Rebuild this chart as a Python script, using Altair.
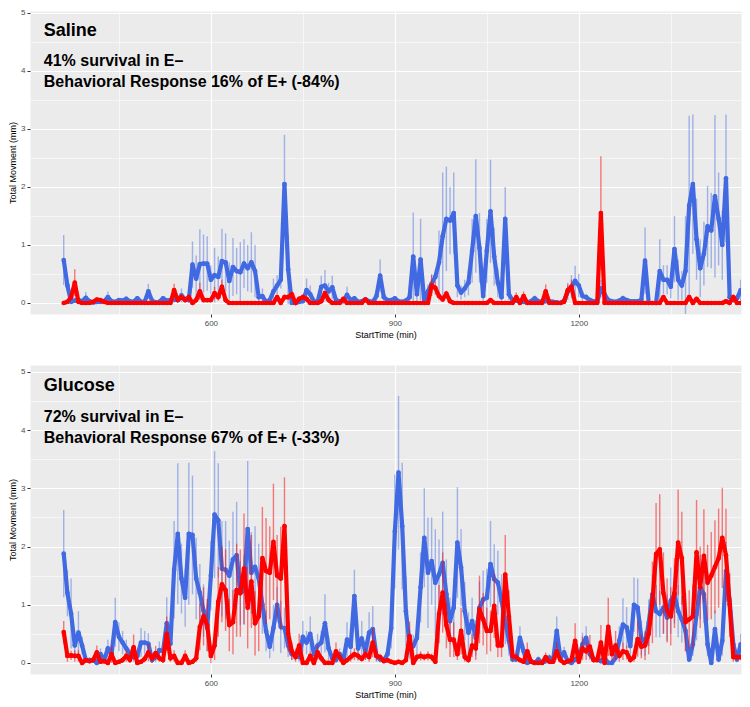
import altair as alt
import pandas as pd

BLUE = "#4169E1"
RED = "#FF0000"

# sampling grid: one point every 6 minutes, 360 .. 1464
T_START, T_STEP, N = 360, 6, 185
times = [T_START + T_STEP * i for i in range(N)]

# ---------------- Saline panel ----------------
saline_eplus = [
    0.74, 0.30, 0.02, 0.04, 0.05, 0.03, 0.09, 0.03, 0.01, 0.02,
    0.02, 0.03, 0.10, 0.03, 0.02, 0.05, 0.04, 0.07, 0.03, 0.02,
    0.08, 0.02, 0.02, 0.20, 0.04, 0.01, 0.02, 0.08, 0.04, 0.05,
    0.06, 0.05, 0.13, 0.06, 0.05, 0.66, 0.42, 0.67, 0.68, 0.68,
    0.40, 0.48, 0.45, 0.72, 0.70, 0.38, 0.62, 0.55, 0.53, 0.68,
    0.60, 0.70, 0.55, 0.10, 0.12, 0.02, 0.05, 0.20, 0.30, 0.40,
    2.05, 0.58, 0.00, 0.00, 0.02, 0.03, 0.22, 0.15, 0.03, 0.02,
    0.28, 0.30, 0.20, 0.27, 0.05, 0.03, 0.03, 0.14, 0.05, 0.08,
    0.02, 0.03, 0.06, 0.03, 0.02, 0.12, 0.47, 0.10, 0.05, 0.05,
    0.08, 0.03, 0.02, 0.04, 0.10, 0.80, 0.15, 0.75, 0.03, 0.20,
    0.33, 0.45, 0.70, 1.15, 1.45, 1.42, 1.55, 0.30, 0.18, 0.25,
    0.35, 0.90, 1.50, 0.95, 0.12, 0.90, 1.58, 0.80, 0.35, 0.10,
    1.45, 0.15, 0.05, 0.04, 0.02, 0.02, 0.01, 0.03, 0.08, 0.03,
    0.02, 0.03, 0.03, 0.02, 0.01, 0.00, 0.04, 0.20, 0.28, 0.38,
    0.30, 0.12, 0.10, 0.05, 0.03, 0.02, 0.25, 0.15, 0.05, 0.03,
    0.02, 0.04, 0.08, 0.05, 0.03, 0.03, 0.03, 0.05, 0.73, 0.00,
    0.00, 0.00, 0.55, 0.40, 0.40, 0.28, 0.93, 0.40, 0.30, 0.55,
    1.68, 2.05, 1.10, 0.60, 0.85, 1.32, 1.25, 1.84, 1.45, 1.00,
    2.15, 0.10, 0.05, 0.08, 0.22,
]
saline_eplus_se = [
    0.43, 0.10, 0.01, 0.02, 0.03, 0.02, 0.10, 0.02, 0.01, 0.01,
    0.01, 0.02, 0.10, 0.02, 0.01, 0.03, 0.03, 0.05, 0.02, 0.01,
    0.04, 0.01, 0.01, 0.13, 0.03, 0.01, 0.01, 0.04, 0.03, 0.04,
    0.05, 0.04, 0.12, 0.05, 0.04, 0.40, 0.40, 0.60, 0.50, 0.47,
    0.25, 0.47, 0.35, 0.56, 0.50, 0.32, 0.50, 0.40, 0.52, 0.42,
    0.40, 0.52, 0.45, 0.10, 0.13, 0.02, 0.05, 0.22, 0.18, 0.15,
    0.85, 0.60, 0.00, 0.00, 0.02, 0.03, 0.20, 0.15, 0.03, 0.02,
    0.19, 0.27, 0.15, 0.20, 0.05, 0.02, 0.02, 0.14, 0.04, 0.04,
    0.01, 0.02, 0.04, 0.02, 0.01, 0.10, 0.28, 0.08, 0.04, 0.03,
    0.04, 0.02, 0.01, 0.03, 0.06, 0.76, 0.12, 0.70, 0.02, 0.12,
    0.17, 0.05, 0.55, 1.10, 0.90, 0.58, 0.70, 0.20, 0.12, 0.15,
    0.22, 0.55, 0.98, 0.60, 0.08, 0.55, 0.89, 0.50, 0.25, 0.06,
    0.55, 0.10, 0.04, 0.03, 0.02, 0.01, 0.01, 0.02, 0.05, 0.02,
    0.01, 0.02, 0.02, 0.01, 0.01, 0.00, 0.03, 0.15, 0.20, 0.26,
    0.20, 0.08, 0.06, 0.04, 0.02, 0.01, 0.15, 0.10, 0.04, 0.02,
    0.01, 0.03, 0.05, 0.03, 0.02, 0.02, 0.02, 0.03, 0.57, 0.00,
    0.00, 0.00, 0.55, 0.25, 0.25, 0.20, 0.57, 0.35, 0.25, 0.95,
    1.55, 1.20, 0.70, 0.50, 0.55, 0.70, 0.65, 1.40, 0.80, 0.60,
    1.10, 0.06, 0.03, 0.05, 0.18,
]
saline_eminus = [
    0.00, 0.02, 0.10, 0.35, 0.02, 0.00, 0.00, 0.00, 0.02, 0.06,
    0.05, 0.02, 0.00, 0.00, 0.00, 0.00, 0.00, 0.00, 0.00, 0.00,
    0.00, 0.00, 0.00, 0.00, 0.00, 0.00, 0.00, 0.00, 0.00, 0.00,
    0.22, 0.05, 0.10, 0.05, 0.10, 0.00, 0.05, 0.20, 0.05, 0.05,
    0.05, 0.17, 0.10, 0.28, 0.05, 0.00, 0.00, 0.00, 0.00, 0.00,
    0.00, 0.00, 0.00, 0.00, 0.00, 0.00, 0.00, 0.00, 0.10, 0.00,
    0.10, 0.10, 0.15, 0.00, 0.07, 0.10, 0.07, 0.00, 0.00, 0.00,
    0.03, 0.17, 0.05, 0.00, 0.00, 0.00, 0.07, 0.00, 0.00, 0.00,
    0.00, 0.00, 0.06, 0.00, 0.00, 0.00, 0.00, 0.00, 0.00, 0.00,
    0.00, 0.00, 0.00, 0.00, 0.00, 0.00, 0.00, 0.00, 0.00, 0.00,
    0.30, 0.26, 0.12, 0.06, 0.16, 0.03, 0.00, 0.00, 0.00, 0.00,
    0.00, 0.00, 0.00, 0.00, 0.00, 0.00, 0.05, 0.00, 0.00, 0.00,
    0.00, 0.00, 0.00, 0.10, 0.00, 0.12, 0.00, 0.00, 0.00, 0.00,
    0.00, 0.20, 0.00, 0.00, 0.00, 0.00, 0.02, 0.22, 0.28, 0.00,
    0.00, 0.00, 0.00, 0.00, 0.00, 0.00, 1.55, 0.00, 0.00, 0.00,
    0.00, 0.00, 0.00, 0.00, 0.00, 0.00, 0.00, 0.00, 0.00, 0.00,
    0.00, 0.00, 0.00, 0.10, 0.00, 0.00, 0.00, 0.00, 0.00, 0.00,
    0.10, 0.00, 0.07, 0.00, 0.00, 0.00, 0.00, 0.00, 0.00, 0.00,
    0.03, 0.00, 0.10, 0.00, 0.00,
]
saline_eminus_se = [
    0.00, 0.01, 0.05, 0.23, 0.01, 0.00, 0.00, 0.00, 0.01, 0.03,
    0.03, 0.01, 0.00, 0.00, 0.00, 0.00, 0.00, 0.00, 0.00, 0.00,
    0.00, 0.00, 0.00, 0.00, 0.00, 0.00, 0.00, 0.00, 0.00, 0.00,
    0.11, 0.03, 0.05, 0.03, 0.05, 0.00, 0.03, 0.15, 0.03, 0.03,
    0.03, 0.11, 0.06, 0.12, 0.03, 0.00, 0.00, 0.00, 0.00, 0.00,
    0.00, 0.00, 0.00, 0.00, 0.00, 0.00, 0.00, 0.00, 0.03, 0.00,
    0.05, 0.05, 0.05, 0.00, 0.04, 0.05, 0.04, 0.00, 0.00, 0.00,
    0.02, 0.03, 0.03, 0.00, 0.00, 0.00, 0.03, 0.00, 0.00, 0.00,
    0.00, 0.00, 0.03, 0.00, 0.00, 0.00, 0.00, 0.00, 0.00, 0.00,
    0.00, 0.00, 0.00, 0.00, 0.00, 0.00, 0.00, 0.00, 0.00, 0.00,
    0.18, 0.12, 0.06, 0.04, 0.05, 0.02, 0.00, 0.00, 0.00, 0.00,
    0.00, 0.00, 0.00, 0.00, 0.00, 0.00, 0.03, 0.00, 0.00, 0.00,
    0.00, 0.00, 0.00, 0.08, 0.00, 0.08, 0.00, 0.00, 0.00, 0.00,
    0.00, 0.12, 0.00, 0.00, 0.00, 0.00, 0.01, 0.10, 0.12, 0.00,
    0.00, 0.00, 0.00, 0.00, 0.00, 0.00, 0.98, 0.00, 0.00, 0.00,
    0.00, 0.00, 0.00, 0.00, 0.00, 0.00, 0.00, 0.00, 0.00, 0.00,
    0.00, 0.00, 0.00, 0.04, 0.00, 0.00, 0.00, 0.00, 0.00, 0.00,
    0.04, 0.00, 0.03, 0.00, 0.00, 0.00, 0.00, 0.00, 0.00, 0.00,
    0.02, 0.00, 0.05, 0.00, 0.00,
]

# ---------------- Glucose panel ----------------
glucose_eplus = [
    1.88, 1.20, 0.85, 0.30, 0.52, 0.30, 0.05, 0.05, 0.05, 0.00,
    0.15, 0.05, 0.25, 0.15, 0.70, 0.45, 0.35, 0.25, 0.15, 0.10,
    0.12, 0.35, 0.35, 0.33, 0.05, 0.10, 0.22, 0.20, 0.68, 0.33,
    1.60, 2.22, 1.45, 1.12, 2.22, 2.20, 1.45, 1.20, 0.90, 0.60,
    1.50, 2.55, 2.45, 1.62, 1.60, 1.50, 1.78, 1.85, 1.20, 1.25,
    2.30, 1.55, 1.65, 1.45, 1.00, 0.55, 0.28, 0.60, 1.00, 0.62,
    0.60, 0.30, 0.15, 0.15, 0.10, 0.45, 0.35, 0.50, 0.15, 0.30,
    0.35, 0.68, 0.25, 0.08, 0.05, 0.15, 0.05, 0.40, 0.28, 1.15,
    0.25, 0.42, 0.20, 0.52, 0.58, 0.12, 0.06, 0.05, 0.15, 0.60,
    2.26, 3.27, 2.35, 0.89, 0.32, 0.29, 0.43, 1.30, 2.15, 1.55,
    1.75, 1.38, 1.52, 1.72, 1.18, 0.72, 0.95, 2.07, 1.64, 0.89,
    0.52, 0.72, 0.43, 0.95, 1.09, 1.12, 1.70, 1.44, 1.38, 1.07,
    0.72, 0.38, 0.06, 0.06, 0.43, 0.20, 0.00, 0.03, 0.00, 0.06,
    0.00, 0.03, 0.09, 0.03, 0.55, 0.09, 0.18, 0.03, 0.00, 0.06,
    0.06, 0.32, 0.43, 0.15, 0.06, 0.06, 0.03, 0.09, 0.00, 0.00,
    0.09, 0.38, 0.66, 0.61, 0.29, 1.00, 0.95, 0.43, 0.32, 0.69,
    1.18, 0.89, 0.84, 0.95, 0.78, 1.07, 1.18, 0.89, 0.75, 0.55,
    0.06, 0.32, 0.84, 1.30, 1.18, 0.32, 0.00, 0.58, 0.06, 0.38,
    1.58, 1.07, 0.32, 0.06, 0.32,
]
glucose_eplus_se = [
    0.75, 0.40, 0.60, 0.20, 0.37, 0.15, 0.05, 0.05, 0.05, 0.02,
    0.10, 0.05, 0.15, 0.10, 0.42, 0.25, 0.20, 0.15, 0.10, 0.08,
    0.08, 0.25, 0.20, 0.18, 0.05, 0.08, 0.15, 0.15, 0.45, 0.25,
    0.84, 1.21, 0.60, 0.50, 1.22, 1.02, 0.70, 0.50, 0.45, 0.40,
    0.60, 1.09, 0.98, 0.82, 0.84, 0.60, 0.82, 0.92, 0.55, 0.60,
    1.17, 0.70, 0.70, 0.60, 0.50, 0.35, 0.20, 0.40, 0.30, 0.45,
    0.35, 0.20, 0.10, 0.10, 0.08, 0.27, 0.20, 0.30, 0.10, 0.20,
    0.20, 0.50, 0.20, 0.06, 0.04, 0.10, 0.04, 0.30, 0.20, 0.45,
    0.20, 0.30, 0.15, 0.35, 0.40, 0.10, 0.05, 0.04, 0.10, 0.35,
    0.98, 1.32, 1.09, 0.60, 0.25, 0.20, 0.30, 0.60, 0.85, 0.95,
    0.75, 0.92, 0.60, 0.88, 0.60, 0.40, 0.50, 0.95, 0.66, 0.50,
    0.35, 0.40, 0.30, 0.45, 0.50, 0.50, 0.74, 0.60, 0.55, 0.45,
    0.40, 0.25, 0.05, 0.05, 0.20, 0.12, 0.00, 0.03, 0.00, 0.05,
    0.00, 0.03, 0.06, 0.03, 0.25, 0.06, 0.10, 0.03, 0.00, 0.05,
    0.05, 0.20, 0.20, 0.10, 0.05, 0.05, 0.03, 0.06, 0.00, 0.00,
    0.06, 0.25, 0.45, 0.35, 0.20, 0.47, 0.50, 0.30, 0.20, 0.40,
    0.34, 0.45, 0.40, 0.45, 0.40, 0.57, 0.50, 0.45, 0.40, 0.35,
    0.05, 0.20, 0.45, 0.55, 0.50, 0.20, 0.00, 0.32, 0.05, 0.25,
    0.50, 0.45, 0.20, 0.05, 0.18,
]
glucose_eminus = [
    0.53, 0.12, 0.13, 0.12, 0.12, 0.00, 0.05, 0.03, 0.05, 0.18,
    0.02, 0.03, 0.00, 0.15, 0.00, 0.02, 0.05, 0.12, 0.05, 0.27,
    0.00, 0.02, 0.07, 0.18, 0.08, 0.17, 0.08, 0.05, 0.50, 0.08,
    0.12, 0.00, 0.00, 0.12, 0.00, 0.02, 0.08, 0.62, 0.80, 0.65,
    0.12, 0.30, 1.05, 1.35, 1.25, 0.65, 0.70, 1.25, 1.20, 1.62,
    0.95, 1.40, 0.68, 0.80, 1.80, 1.58, 1.55, 2.08, 1.50, 1.45,
    2.35, 0.50, 0.20, 0.10, 0.30, 0.00, 0.00, 0.12, 0.00, 0.18,
    0.08, 0.00, 0.00, 0.00, 0.20, 0.10, 0.00, 0.05, 0.10, 0.15,
    0.12, 0.07, 0.15, 0.10, 0.35, 0.12, 0.10, 0.03, 0.05, 0.02,
    0.00, 0.02, 0.00, 0.05, 0.46, 0.00, 0.10, 0.12, 0.10, 0.12,
    0.10, 0.02, 0.84, 1.21, 0.65, 0.40, 0.40, 0.15, 0.55, 0.10,
    0.05, 0.30, 0.25, 0.92, 0.75, 0.55, 0.55, 0.98, 0.30, 0.30,
    1.52, 0.80, 0.12, 0.10, 0.05, 0.02, 0.20, 0.02, 0.00, 0.00,
    0.00, 0.10, 0.02, 0.02, 0.20, 0.05, 0.00, 0.03, 0.05, 0.38,
    0.02, 0.25, 0.20, 0.28, 0.05, 0.05, 0.35, 0.00, 0.62, 0.15,
    0.30, 0.12, 0.20, 0.18, 0.05, 0.10, 0.41, 0.28, 0.30, 0.50,
    1.04, 1.87, 1.95, 1.20, 0.90, 0.80, 1.20, 2.07, 1.80, 0.70,
    0.75, 0.80, 1.90, 1.30, 1.84, 1.38, 1.50, 1.65, 1.80, 2.15,
    1.85, 1.00, 0.10, 0.10, 0.10,
]
glucose_eminus_se = [
    0.19, 0.10, 0.08, 0.10, 0.10, 0.02, 0.04, 0.03, 0.04, 0.12,
    0.02, 0.03, 0.02, 0.15, 0.02, 0.02, 0.05, 0.10, 0.05, 0.22,
    0.02, 0.03, 0.06, 0.15, 0.08, 0.12, 0.06, 0.05, 0.30, 0.06,
    0.10, 0.02, 0.02, 0.10, 0.02, 0.03, 0.07, 0.40, 0.50, 0.45,
    0.12, 0.25, 0.60, 0.65, 0.70, 0.45, 0.55, 0.80, 0.75, 0.95,
    0.70, 0.80, 0.55, 0.60, 0.88, 0.91, 0.80, 1.00, 0.70, 0.89,
    0.84, 0.30, 0.15, 0.08, 0.20, 0.00, 0.00, 0.08, 0.00, 0.12,
    0.06, 0.00, 0.00, 0.00, 0.15, 0.08, 0.00, 0.04, 0.08, 0.10,
    0.08, 0.05, 0.10, 0.08, 0.25, 0.08, 0.06, 0.02, 0.04, 0.02,
    0.00, 0.02, 0.00, 0.04, 0.25, 0.00, 0.06, 0.08, 0.06, 0.08,
    0.06, 0.02, 0.50, 0.69, 0.40, 0.30, 0.30, 0.10, 0.40, 0.08,
    0.04, 0.20, 0.20, 0.58, 0.45, 0.40, 0.35, 0.55, 0.20, 0.20,
    0.68, 0.45, 0.08, 0.06, 0.04, 0.02, 0.15, 0.02, 0.00, 0.00,
    0.00, 0.08, 0.02, 0.02, 0.15, 0.04, 0.00, 0.02, 0.04, 0.30,
    0.02, 0.20, 0.15, 0.20, 0.04, 0.04, 0.30, 0.00, 0.50, 0.12,
    0.25, 0.10, 0.15, 0.12, 0.04, 0.08, 0.30, 0.20, 0.25, 0.35,
    0.70, 0.88, 0.95, 0.70, 0.55, 0.50, 0.60, 0.91, 0.80, 0.50,
    0.50, 0.55, 0.90, 0.70, 0.80, 0.65, 0.75, 0.80, 0.85, 0.86,
    0.80, 0.55, 0.08, 0.06, 0.05,
]

x_ticks = [450, 600, 750, 900, 1050, 1200, 1350]
y_ticks = [0, 0.5, 1, 1.5, 2, 2.5, 3, 3.5, 4, 4.5, 5]

saline_title = "Saline"
saline_lines = ["41% survival in E\u2013", "Behavioral Response 16% of E+ (-84%)"]
glucose_title = "Glucose"
glucose_lines = ["72% survival in E\u2013", "Behavioral Response 67% of E+ (-33%)"]

for arr in [saline_eplus, saline_eplus_se, saline_eminus, saline_eminus_se,
            glucose_eplus, glucose_eplus_se, glucose_eminus, glucose_eminus_se]:
    assert len(arr) == N, len(arr)

X_DOMAIN = [305, 1464.5]
FONT = "Liberation Sans"

x_axis = alt.Axis(
    values=x_ticks,
    labelExpr="datum.value % 300 === 0 ? format(datum.value, 'd') : ''",
    gridWidth={"condition": {"test": "datum.value % 300 === 0", "value": 1.1}, "value": 0.55},
    tickOpacity={"condition": {"test": "datum.value % 300 === 0", "value": 1}, "value": 0},
)
y_axis = alt.Axis(
    values=y_ticks,
    labelExpr="datum.value % 1 === 0 ? format(datum.value, 'd') : ''",
    gridWidth={"condition": {"test": "datum.value % 1 === 0", "value": 1.1}, "value": 0.55},
    tickOpacity={"condition": {"test": "datum.value % 1 === 0", "value": 1}, "value": 0},
)


def panel(eplus, eplus_se, eminus, eminus_se, ydom, height, title, lines, text_y):
    xs = alt.X("t:Q", scale=alt.Scale(domain=X_DOMAIN, nice=False, zero=False),
               axis=x_axis, title="StartTime (min)")
    yscale = alt.Scale(domain=ydom, nice=False, zero=False)
    layers = []
    for vals, ses, col, op in [(eplus, eplus_se, BLUE, 0.45), (eminus, eminus_se, RED, 0.5)]:
        df = pd.DataFrame({
            "t": times,
            "v": vals,
            "lo": [a - b for a, b in zip(vals, ses)],
            "hi": [a + b for a, b in zip(vals, ses)],
        })
        base = alt.Chart(df)
        bars = base.mark_rule(color=col, strokeWidth=1.4, opacity=op, clip=True).encode(
            x=xs,
            y=alt.Y("lo:Q", scale=yscale, axis=y_axis, title="Total Movment (mm)"),
            y2="hi:Q",
        )
        yv = alt.Y("v:Q", scale=yscale, axis=y_axis, title="Total Movment (mm)")
        line = base.mark_line(color=col, strokeWidth=4.2, strokeJoin="round", clip=True).encode(x=xs, y=yv)
        pts = base.mark_circle(color=col, size=22, opacity=1, clip=True).encode(x=xs, y=yv)
        layers += [bars, line, pts]
    yv = alt.Y("v:Q", scale=yscale, axis=y_axis, title="Total Movment (mm)")
    tdf = pd.DataFrame({"t": [327.5], "v": [text_y[0]], "label": [title]})
    ldf = pd.DataFrame({"t": [327.5, 327.5], "v": text_y[1:], "label": lines})
    t1 = alt.Chart(tdf).mark_text(align="left", baseline="alphabetic", font=FONT, fontWeight="bold",
                                  fontSize=18, color="black").encode(x=xs, y=yv, text="label:N")
    t2 = alt.Chart(ldf).mark_text(align="left", baseline="alphabetic", font=FONT, fontWeight="bold",
                                  fontSize=16, color="black").encode(x=xs, y=yv, text="label:N")
    return alt.layer(*layers, t1, t2).properties(width=711, height=height)


top = panel(saline_eplus, saline_eplus_se, saline_eminus, saline_eminus_se,
            [-0.19, 5.034], 303, saline_title, saline_lines, [4.60, 4.08, 3.72])
bottom = panel(glucose_eplus, glucose_eplus_se, glucose_eminus, glucose_eminus_se,
               [-0.19, 5.12], 309, glucose_title, glucose_lines, [4.67, 4.146, 3.775])

chart = (
    alt.vconcat(top, bottom, spacing=24)
    .properties(padding={"left": 0, "top": 0, "right": 0, "bottom": 0})
    .configure_view(fill="#EBEBEB", stroke="transparent")
    .configure_axis(
        domain=False,
        grid=True,
        gridColor="white",
        labelFont=FONT,
        labelFontSize=8,
        labelColor="#4D4D4D",
        labelPadding=2,
        titleFont=FONT,
        titleFontSize=9,
        titleFontWeight="normal",
        titleColor="black",
        titlePadding=3,
        tickColor="#333333",
        tickSize=3,
        tickWidth=1,
    )
)

chart.save("out.html", embed_options={"renderer": "svg", "actions": False})
